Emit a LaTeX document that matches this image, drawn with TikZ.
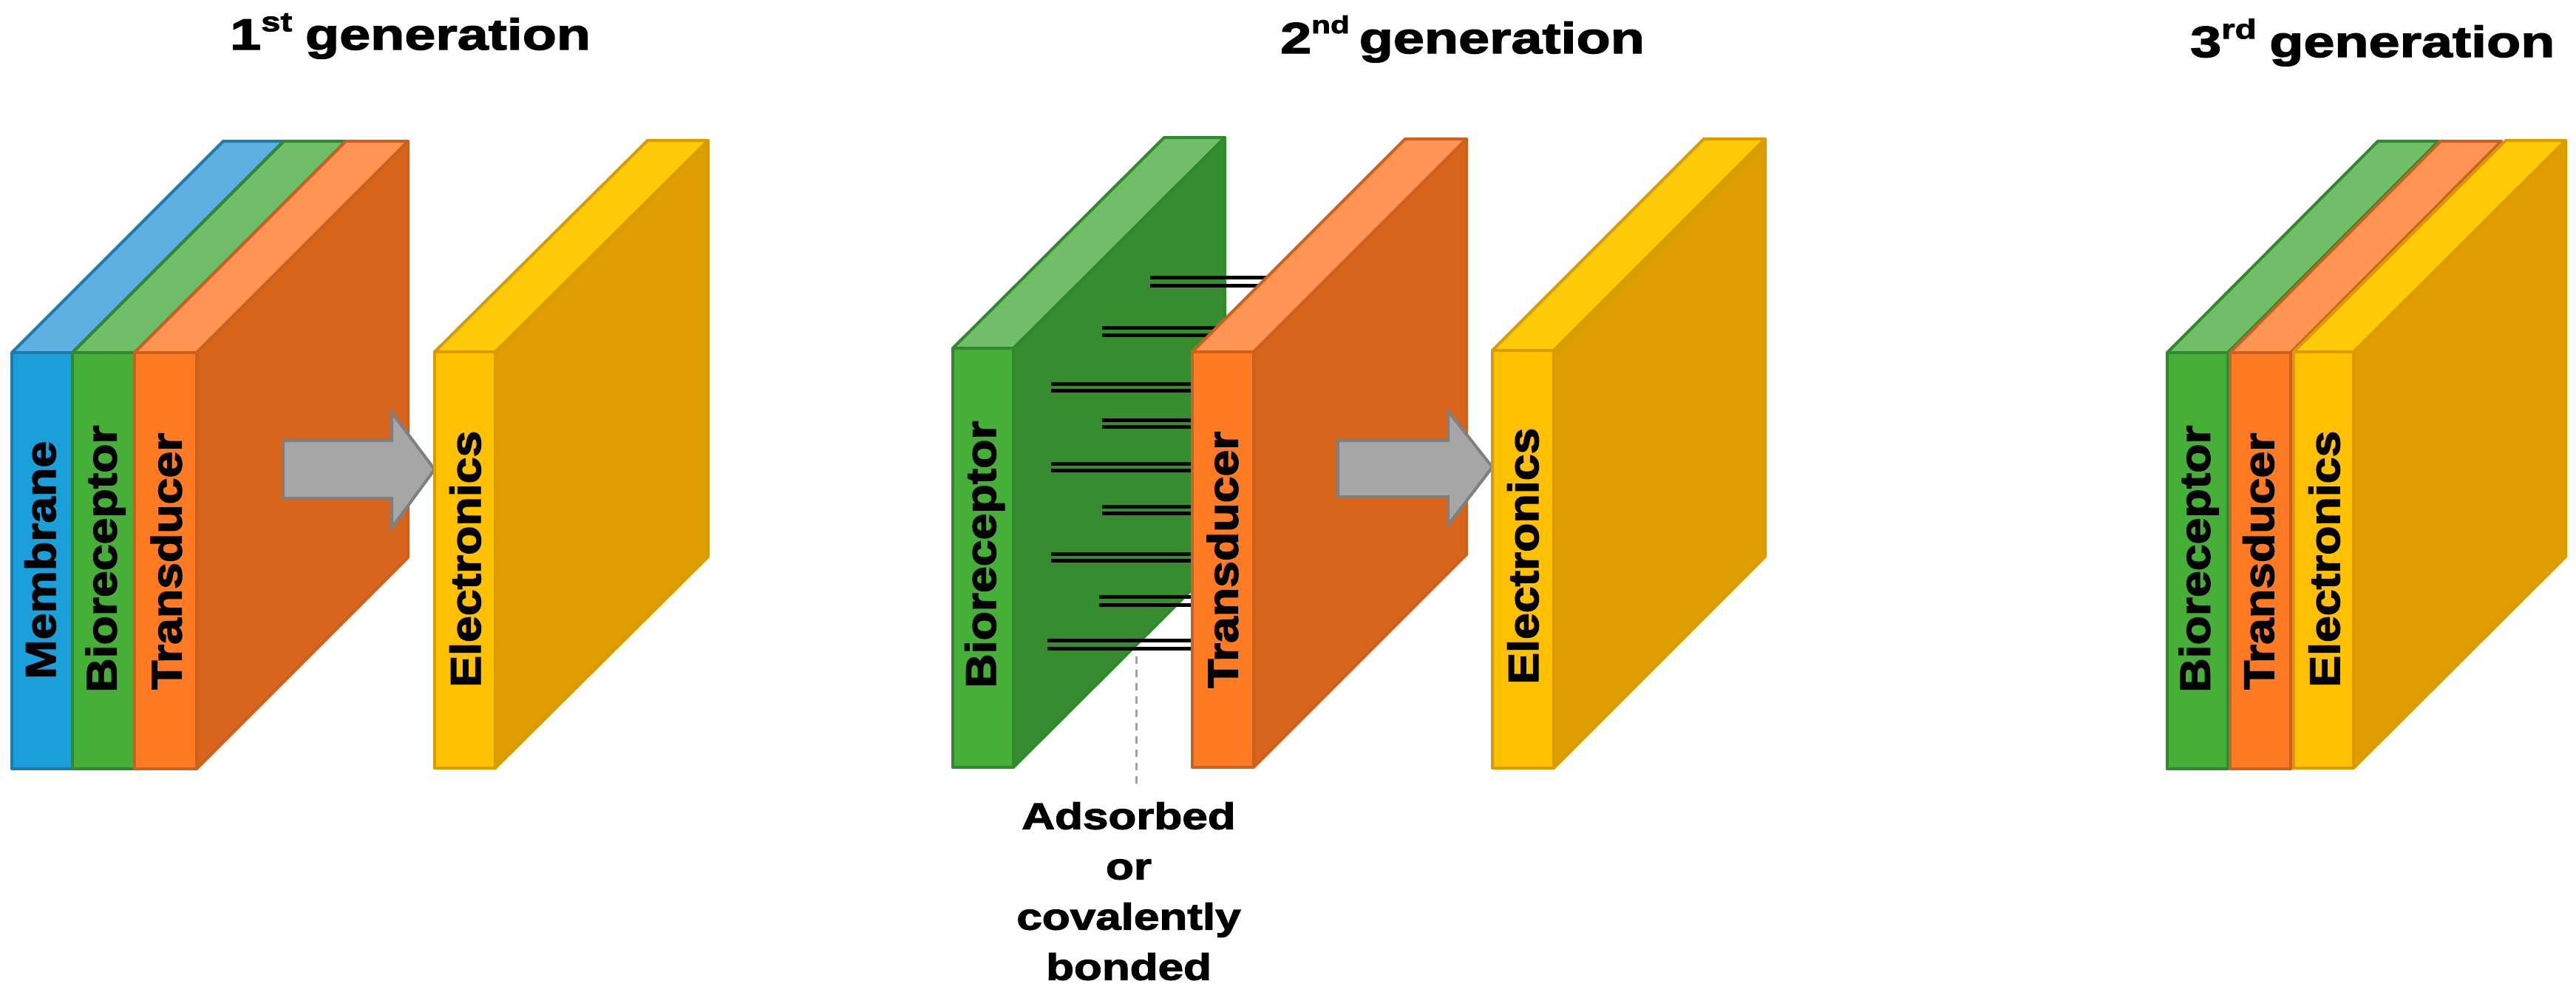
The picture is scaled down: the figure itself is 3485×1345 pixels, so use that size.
\documentclass[tikz,border=0pt]{standalone}
\usepackage{fontspec}
\newfontfamily\titlefont{Liberation Sans}[FakeStretch=1.28,FakeBold=2.5]
\newfontfamily\notefont{Liberation Sans}[FakeStretch=1.24,FakeBold=2.5]
\newfontfamily\vertfont{Liberation Sans}[FakeStretch=1.12,FakeBold=2.5]
\definecolor{memF}{HTML}{1A9FDB}\definecolor{memT}{HTML}{5DB0E0}\definecolor{memS}{HTML}{1A7FB0}\definecolor{memB}{HTML}{1B7DAE}
\definecolor{bioF}{HTML}{45AF38}\definecolor{bioT}{HTML}{70BF68}\definecolor{bioS}{HTML}{378C2F}\definecolor{bioB}{HTML}{2F8A2D}
\definecolor{traF}{HTML}{FF7B23}\definecolor{traT}{HTML}{FF9552}\definecolor{traS}{HTML}{D8631B}\definecolor{traB}{HTML}{CC601C}
\definecolor{eleF}{HTML}{FFC000}\definecolor{eleT}{HTML}{FFCB08}\definecolor{eleS}{HTML}{DE9E00}\definecolor{eleB}{HTML}{D89C00}
\definecolor{arrowF}{HTML}{A6A6A6}\definecolor{arrowB}{HTML}{7F7F7F}\definecolor{leaderC}{HTML}{A0A0A0}
% #1 colour stem, #2 front left, #3 front right, #4 top, #5 bottom, #6 depth, #7 height of back face
\newcommand{\prism}[7]{%
  \draw[facet,draw=#1B,fill=#1S] (#3,#4) -- ++(#6,-#7) -- (#3+#6,#5-#7) -- (#3,#5) -- cycle;
  \draw[facet,draw=#1B,fill=#1T] (#2,#4) -- ++(#6,-#7) -- (#3+#6,#4-#7) -- (#3,#4) -- cycle;
  \draw[facet,draw=#1B,fill=#1F] (#2,#4) rectangle (#3,#5);
}
\tikzset{
  facet/.style={line width=4pt,line join=round},
  blockarr/.style={line width=4pt,draw=arrowB,fill=arrowF,line join=miter},
  vlabel/.style={rotate=90,anchor=base west,inner sep=0pt,font=\vertfont\bfseries\fontsize{57.5}{60}\selectfont,text=black},
  gentitle/.style={anchor=base west,inner sep=0pt,font=\titlefont\bfseries\fontsize{59}{62}\selectfont,text=black},
  notetext/.style={anchor=north,inner sep=0pt,align=center,font=\notefont\bfseries\fontsize{50}{68}\selectfont,text=black},
  bondline/.style={line width=5pt,draw=black,line cap=butt},
  leader/.style={line width=3pt,draw=leaderC,dash pattern=on 10pt off 8pt},
}
\newcommand{\supr}[1]{\raisebox{.42em}{\fontsize{37}{40}\selectfont #1}}
\newcommand{\suprn}[1]{\raisebox{.46em}{\fontsize{33}{36}\selectfont #1}}
\begin{document}
\begin{tikzpicture}[x=1pt,y=-1pt]
\useasboundingbox (0,0) rectangle (3485,1345);
\fill[white] (0,0) rectangle (3485,1345);

% --- titles
\node[gentitle] (t1) at (311,67) {1\supr{st}\hspace{.3em}generation};
\node[gentitle] (t2) at (1732,72) {2\suprn{nd}\hspace{.22em}generation};
\node[gentitle] (t3) at (2963,77) {3\supr{rd}\hspace{.3em}generation};

% --- first generation
\prism{mem}{16}{98}{477}{1040}{286}{286}
\prism{bio}{98}{182}{477}{1040}{286}{286}
\prism{tra}{182}{266}{477}{1040}{286}{286}
\draw[blockarr] (383,596) -- (530,596) -- (530,558) -- (588,635) -- (530,714) -- (530,674) -- (383,674) -- cycle;
\prism{ele}{588}{670}{476}{1039}{288}{286}
\node[vlabel] (m1) at (75,919) {Membrane};
\node[vlabel] (b1) at (157.5,937) {Bioreceptor};
\node[vlabel] (r1) at (245.5,933) {Transducer};
\node[vlabel] (e1) at (650,930) {Electronics};

% --- second generation
\prism{bio}{1289}{1371}{471}{1038}{286}{285}
\foreach \xs/\ya/\yb in {1556/375.7/386,1491/443/453,1422/519/528,1491/568/577,1422/627/636,1491/685/694,1422/749/758,1487/807/818,1417/866.7/877.3}{
  \draw[bondline] (\xs,\ya) -- (1730,\ya);
  \draw[bondline] (\xs,\yb) -- (1730,\yb);
}
\prism{tra}{1613}{1696}{476}{1038}{288}{288}
\draw[blockarr] (1810,596) -- (1959,596) -- (1959,556) -- (2019,632) -- (1959,710) -- (1959,672) -- (1810,672) -- cycle;
\prism{ele}{2019}{2102}{474}{1039}{286}{286}
\node[vlabel] (b2) at (1347,931) {Bioreceptor};
\node[vlabel] (r2) at (1674.5,931) {Transducer};
\node[vlabel] (e2) at (2081,926) {Electronics};
\node[notetext] (note) at (1527,1085) {Adsorbed\\or\\covalently\\bonded};
\coordinate (leadtop) at (1537,888);
\coordinate (leadend) at (1537,1061);
\draw[leader] (leadtop) -- (leadend);

% --- third generation
\prism{bio}{2932}{3014}{477}{1040}{285}{286}
\prism{tra}{3017}{3099}{477}{1040}{285}{286}
\prism{ele}{3103}{3184}{476}{1039}{287}{286}
\node[vlabel] (b3) at (2989.5,937) {Bioreceptor};
\node[vlabel] (r3) at (3076,933) {Transducer};
\node[vlabel] (e3) at (3165,930) {Electronics};
\end{tikzpicture}
\end{document}
